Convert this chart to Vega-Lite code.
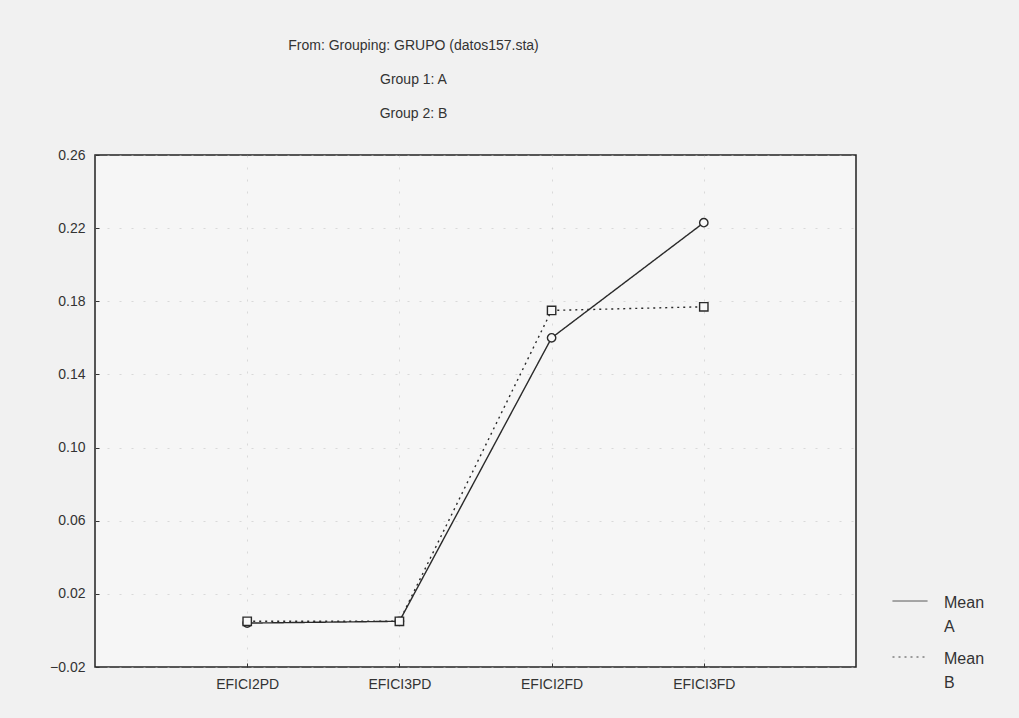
{
  "$schema": "https://vega.github.io/schema/vega-lite/v6.json",
  "width": 761,
  "height": 512,
  "autosize": {"type": "none"},
  "padding": {"left": 95, "top": 155, "right": 163, "bottom": 51},
  "background": "#f1f1f1",
  "title": {
    "text": ["From: Grouping: GRUPO (datos157.sta)", "Group 1: A", "Group 2: B"],
    "anchor": "middle",
    "dx": -62,
    "offset": 27,
    "font": "Liberation Sans Narrow, Liberation Sans, sans-serif",
    "fontSize": 14,
    "fontWeight": "normal",
    "lineHeight": 34,
    "color": "#333"
  },
  "data": {
    "values": [
      {"variable": "EFICI2PD", "group": "A", "mean": 0.004},
      {"variable": "EFICI3PD", "group": "A", "mean": 0.005},
      {"variable": "EFICI2FD", "group": "A", "mean": 0.160},
      {"variable": "EFICI3FD", "group": "A", "mean": 0.223},
      {"variable": "EFICI2PD", "group": "B", "mean": 0.005},
      {"variable": "EFICI3PD", "group": "B", "mean": 0.005},
      {"variable": "EFICI2FD", "group": "B", "mean": 0.175},
      {"variable": "EFICI3FD", "group": "B", "mean": 0.177}
    ]
  },
  "encoding": {
    "x": {
      "field": "variable",
      "type": "nominal",
      "sort": ["EFICI2PD", "EFICI3PD", "EFICI2FD", "EFICI3FD"],
      "scale": {"type": "point", "padding": 1},
      "axis": {
        "title": null,
        "labelAngle": 0,
        "labelPadding": 14,
        "tickSize": -4,
        "grid": true
      }
    },
    "y": {
      "field": "mean",
      "type": "quantitative",
      "scale": {"domain": [-0.02, 0.26], "nice": false, "zero": false},
      "axis": {
        "title": null,
        "values": [-0.02, 0.02, 0.06, 0.10, 0.14, 0.18, 0.22, 0.26],
        "format": ".2f",
        "labelPadding": 14,
        "tickSize": -4,
        "grid": true
      }
    }
  },
  "layer": [
    {
      "mark": {"type": "line", "color": "#2a2a2a", "strokeWidth": 1.4},
      "encoding": {
        "strokeDash": {
          "field": "group",
          "type": "nominal",
          "scale": {"domain": ["A", "B"], "range": [[1, 0], [2, 4]]},
          "legend": {
            "title": null,
            "orient": "none",
            "legendX": 797,
            "legendY": 428,
            "symbolType": "stroke",
            "symbolSize": 1225,
            "symbolStrokeColor": "#444",
            "symbolStrokeWidth": 1,
            "labelExpr": "['Mean', datum.value]",
            "labelFont": "Liberation Sans Narrow, Liberation Sans, sans-serif",
            "labelFontSize": 16,
            "labelColor": "#333",
            "labelOffset": 16,
            "labelBaseline": "top",
            "rowPadding": 4,
            "encode": {
              "labels": {
                "update": {
                  "lineHeight": {"value": 24},
                  "dy": {"value": -6}
                }
              }
            }
          }
        }
      }
    },
    {
      "transform": [{"filter": "datum.group === 'A'"}],
      "mark": {"type": "point", "shape": "circle", "filled": true, "fill": "#f8f8f8", "stroke": "#2a2a2a", "strokeWidth": 1.4, "size": 70, "opacity": 1}
    },
    {
      "transform": [{"filter": "datum.group === 'B'"}],
      "mark": {"type": "point", "shape": "square", "filled": true, "fill": "#f8f8f8", "stroke": "#2a2a2a", "strokeWidth": 1.4, "size": 70, "opacity": 1}
    }
  ],
  "config": {
    "view": {"stroke": "#222", "strokeWidth": 1.5, "fill": "#f6f6f6"},
    "axis": {
      "domain": false,
      "tickColor": "#333",
      "labelFont": "Liberation Sans Narrow, Liberation Sans, sans-serif",
      "labelFontSize": 14,
      "labelColor": "#333",
      "gridColor": "#bbb",
      "gridDash": [2, 10],
      "gridOpacity": 0.5
    }
  }
}
